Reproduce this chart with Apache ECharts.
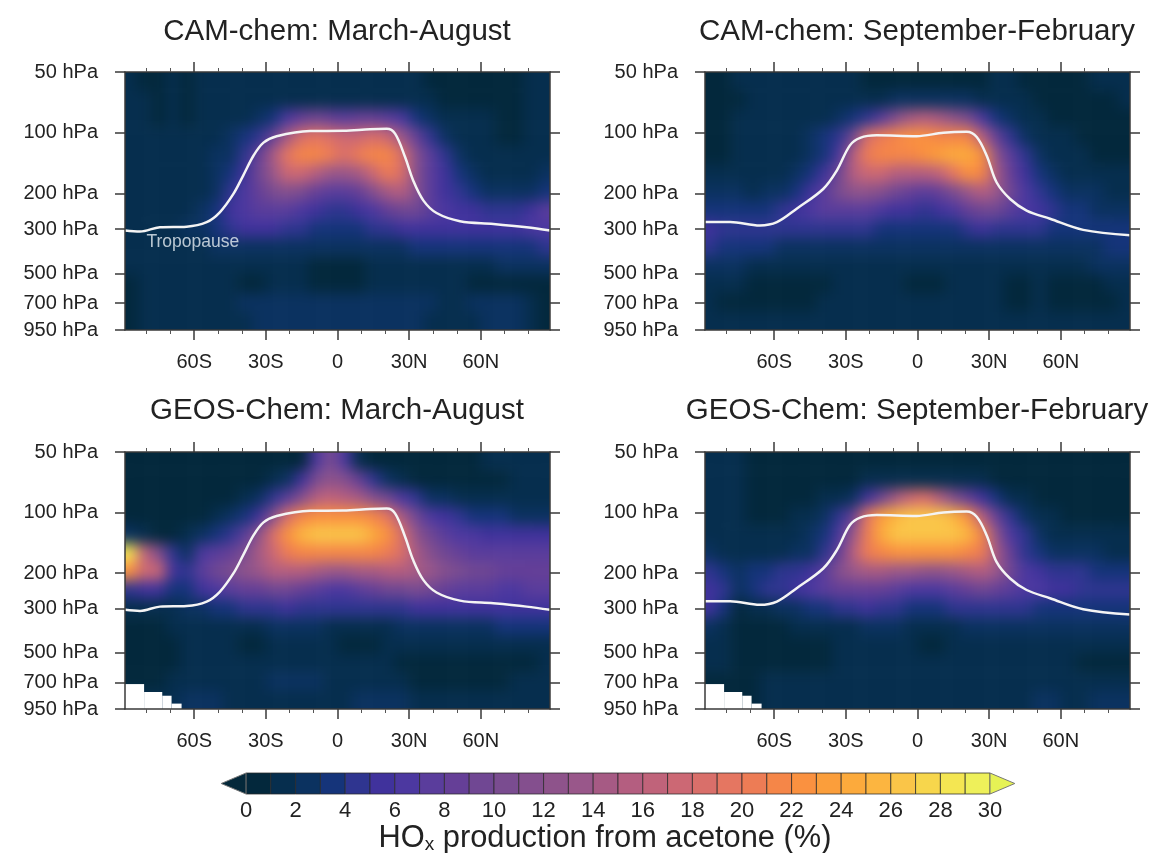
<!DOCTYPE html>
<html><head><meta charset="utf-8">
<style>html,body{margin:0;padding:0;background:#fff}#c{width:1149px;height:853px}</style>
<script src="https://cdn.jsdelivr.net/npm/echarts@6/dist/echarts.min.js"></script>
</head><body><div id="c"></div>
<script>
const panelTitles=['CAM-chem: March-August','CAM-chem: September-February','GEOS-Chem: March-August','GEOS-Chem: September-February'];
const pressureTicks=[50,100,200,300,500,700,950];
const latMajorTicks=[-60,-30,0,30,60];
const latMinorTicks=[-80,-70,-50,-40,-20,-10,10,20,40,50,70,80];
const colorbarTicks=[0,2,4,6,8,10,12,14,16,18,20,22,24,26,28,30];
const latEdges=[-90,-84,-78,-72,-66,-60,-54,-48,-42,-36,-30,-24,-18,-12,-6,0,6,12,18,24,30,36,42,48,54,60,66,72,78,84,90];
const pressureEdges=[50,61.7,76.1,93.9,115.9,143,176.5,217.8,268.8,331.7,409.3,505,623,769,950];
const bandColors=['#03283c','#062e4e','#0b3260','#15347a','#2f3590','#40329c','#4c38a0','#5a3d9c','#653f97','#704793','#7a4c90','#844f8e','#8e538b','#99578a','#a65a84','#b45e80','#c0637a','#cc6874','#d96f6a','#e57661','#ed7c55','#f58648','#fa9140','#fb9e3b','#fcaa3c','#fcb540','#fac548','#f7d64c','#f4e652','#eef05a'];
const belowColor='#04283a', aboveColor='#e6f255';
const camMarAug=[
[1,0,0,1,0,1,1,1,1,1,1,1,1,1,1,1,1,1,1,1,1,0,0,0,0,0,0,0,1,1],
[1,1,0,1,0,1,1,1,1,1,1,1,1,1,1,1,1,1,1,1,1,1,0,0,0,0,0,0,1,1],
[1,1,0,1,0,1,1,1,1,2,3,6,8,9,8,7,8,8,7,6,3,2,1,1,1,1,0,0,1,1],
[1,1,1,1,1,1,1,2,3,4,8,14,18,19,18,17,17,18,17,13,8,4,2,1,1,1,0,0,1,1],
[1,1,1,1,1,1,2,2,4,8,14,19,21,21,20,18,20,21,21,18,11,7,4,2,1,1,1,1,1,1],
[1,1,1,1,1,1,2,3,5,9,13,17,17,15,13,13,14,17,20,18,11,7,5,3,2,1,1,1,1,2],
[1,1,1,1,1,1,2,4,6,8,10,11,10,8,7,7,8,11,14,15,11,7,5,4,3,2,2,2,2,3],
[1,1,1,1,1,2,3,5,6,7,7,7,6,5,4,4,5,6,8,9,9,7,6,5,5,4,4,4,5,7],
[1,1,1,1,2,2,3,4,5,5,5,4,4,3,3,3,3,4,4,5,5,5,5,5,5,5,5,5,6,6],
[1,1,1,1,1,1,2,2,2,2,2,2,2,2,2,2,2,2,2,2,3,3,3,3,3,3,3,3,3,4],
[1,1,1,1,1,1,1,1,1,1,1,1,1,0,0,0,0,1,1,1,1,1,1,1,1,1,2,2,2,2],
[0,1,1,1,1,1,1,1,0,0,1,1,1,0,0,0,0,1,1,1,1,1,1,1,0,0,0,0,0,0],
[0,1,1,1,1,1,1,1,2,2,2,2,2,2,2,2,2,2,2,2,2,2,1,1,2,2,2,2,1,0],
[0,1,1,1,1,1,1,1,1,2,2,2,2,2,2,2,2,2,2,2,2,1,1,1,1,2,2,2,1,0]];
const camSepFeb=[
[0,0,1,1,1,1,1,1,1,1,1,0,0,0,0,0,0,0,0,0,1,1,0,0,0,0,0,1,1,1],
[0,0,0,1,1,1,1,1,1,1,1,1,1,2,2,2,2,2,2,1,1,1,1,0,0,0,0,0,0,1],
[0,0,1,1,1,1,1,1,1,2,3,4,7,11,14,15,14,12,10,6,3,2,1,1,0,0,0,0,0,0],
[0,0,1,1,1,1,1,2,3,4,9,18,20,21,22,22,21,21,21,15,8,4,2,1,1,1,0,0,0,0],
[0,0,1,1,1,1,1,2,3,6,15,20,21,21,21,22,23,24,24,22,12,7,4,2,1,1,1,0,0,0],
[1,1,1,1,1,1,2,3,5,9,15,17,17,15,15,15,16,19,22,21,14,8,5,3,2,1,1,1,1,1],
[2,2,2,1,2,2,3,5,7,10,12,12,11,9,8,7,8,10,13,15,13,9,6,4,3,2,2,2,1,1],
[3,3,3,3,3,4,5,6,7,7,7,7,6,5,5,4,5,6,8,9,9,7,6,5,4,3,3,2,2,2],
[5,4,4,4,4,4,4,4,4,4,4,4,3,3,3,3,3,3,4,5,4,4,4,4,3,3,3,3,3,3],
[4,3,3,3,3,2,2,2,2,2,2,2,2,2,2,2,2,2,2,2,2,2,2,2,2,2,2,2,3,3],
[2,2,2,1,1,1,1,1,1,1,1,1,1,1,1,1,1,1,1,1,1,1,1,1,1,1,1,2,2,2],
[1,1,1,0,0,0,0,0,0,1,1,1,1,1,0,0,0,1,1,1,1,0,0,1,0,0,0,0,1,1],
[1,0,0,0,0,0,0,0,1,1,1,1,1,1,1,1,1,1,1,1,1,0,0,1,0,0,0,0,0,1],
[1,1,1,1,1,1,1,1,1,1,1,1,1,1,1,1,1,1,1,1,1,1,1,1,1,1,1,1,1,1]];
const geosMarAug=[
[0,0,0,0,0,0,0,0,0,0,0,0,0,6,10,6,1,0,0,0,0,0,0,0,0,1,1,1,1,1],
[0,0,0,0,0,0,0,0,0,0,1,2,5,10,12,11,8,4,2,1,0,0,0,0,0,0,0,1,1,1],
[0,0,0,0,0,0,0,0,1,2,4,7,11,15,16,15,14,11,9,6,4,2,2,1,1,1,1,1,1,1],
[0,0,0,0,0,0,1,2,3,5,11,18,21,22,22,22,22,21,19,14,9,6,5,4,3,3,3,2,2,2],
[2,1,0,0,1,2,3,4,7,12,18,22,25,26,26,26,26,24,22,18,12,9,7,6,6,5,5,5,5,5],
[28,16,11,4,2,6,7,8,10,14,17,20,21,21,21,21,21,21,20,18,14,11,9,8,7,7,7,7,7,7],
[22,17,17,5,4,7,9,10,12,13,15,15,15,14,13,13,14,14,15,15,14,13,11,10,9,9,8,8,8,8],
[4,5,5,3,3,5,6,7,8,8,9,9,8,7,6,6,7,8,9,9,10,9,8,7,7,7,6,6,7,7],
[1,1,1,1,2,2,3,3,4,4,4,5,4,4,4,4,4,4,4,4,5,5,5,5,5,5,5,5,5,5],
[0,0,0,1,1,1,1,1,1,1,2,2,2,2,1,1,1,1,1,2,2,2,2,2,2,2,3,3,3,3],
[0,0,0,0,1,1,1,1,0,0,1,1,1,1,1,0,0,0,1,1,1,1,1,1,1,1,1,1,1,1],
[0,0,0,0,1,1,1,1,1,1,1,1,1,1,1,1,1,1,1,0,0,0,0,0,0,0,0,0,0,1],
[0,0,0,1,1,1,1,1,1,1,2,2,2,2,1,1,1,1,1,1,0,0,0,0,0,0,0,1,1,1],
[1,1,1,1,2,2,2,1,1,1,1,1,1,1,1,1,2,2,2,2,1,1,1,1,1,1,1,1,1,1]];
const geosSepFeb=[
[1,1,1,0,0,0,0,0,0,0,0,0,0,0,0,0,0,0,0,0,0,0,0,0,0,0,0,0,0,0],
[1,1,1,0,0,0,0,0,0,0,0,1,1,1,1,1,1,1,1,1,0,0,0,0,0,0,0,0,0,0],
[1,1,1,0,0,0,0,0,1,1,2,5,9,14,17,18,15,11,8,5,3,1,1,0,0,0,0,0,0,0],
[1,1,1,0,0,0,1,1,2,4,8,19,23,25,26,26,26,25,22,15,8,4,2,1,1,0,0,0,0,0],
[1,1,1,1,1,1,1,2,3,6,13,20,24,26,26,26,26,26,25,21,12,6,4,2,1,1,1,1,1,1],
[2,1,1,1,1,1,2,2,4,8,15,20,21,22,22,22,22,22,21,20,14,8,4,3,2,2,2,2,1,1],
[4,3,2,3,3,4,4,5,7,11,13,14,14,13,13,12,12,13,14,15,13,9,6,5,4,4,4,3,3,3],
[5,4,2,3,4,4,5,6,7,8,8,8,8,7,6,6,6,7,8,9,8,7,6,6,5,5,4,4,4,4],
[5,3,0,1,1,2,2,3,3,4,4,5,4,4,3,3,3,4,4,4,4,4,4,3,3,3,3,3,3,3],
[2,1,0,0,0,0,1,1,1,1,1,2,2,2,1,1,1,1,2,2,2,2,2,2,2,2,2,2,2,2],
[1,1,0,0,0,0,0,0,0,1,1,1,1,1,1,0,0,1,1,1,1,1,1,1,1,1,1,1,1,1],
[1,1,0,0,0,0,0,0,0,1,1,1,1,1,1,1,1,1,1,1,1,1,1,1,1,1,0,0,0,0],
[0,0,0,0,1,1,1,1,1,1,1,1,1,1,1,1,1,1,1,1,1,1,1,1,1,1,1,1,1,1],
[0,0,0,0,1,1,1,1,1,1,1,1,1,1,1,1,1,1,1,1,1,1,1,2,2,1,1,2,2,2]];
const tropopauseMarAug=[[-89,305],[-82.7,309],[-74.4,294],[-63.2,292],[-54.8,277.5],[-49.3,248],[-43.6,201],[-39.5,163],[-35.2,130],[-31,112],[-25.5,104],[-11.5,98],[2.5,97.8],[13.6,96],[20.6,95.6],[24.1,101],[28.3,132],[31.7,172.5],[36,217],[41.5,250],[51.3,274.5],[65.3,283],[79.2,294],[89,305]];
const tropopauseSepFeb=[[-89,276.6],[-78.5,276.6],[-66,288],[-58.9,277.5],[-50.6,238],[-39.5,190],[-33.8,154],[-28.3,115.5],[-24,106],[-17.1,103],[-0.4,104],[10.9,100],[20.6,99],[24.8,105],[29,130],[33.1,176],[38.8,213],[45.7,243],[55.5,267],[69.4,303],[89,322]];
const missingBlocks=[[-89,-81,714,950],[-81,-73.4,782,950],[-73.4,-69.5,816,950],[-69.5,-65.3,893,950]];
const tropopauseLabel=[[-80,349]];
const panelData=[camMarAug,camSepFeb,geosMarAug,geosSepFeb];
const panelTropopause=[tropopauseMarAug,tropopauseSepFeb,tropopauseMarAug,tropopauseSepFeb];

const FONT='Liberation Sans',INK='#222',AX='#3a3a3a',TOP=2,BLUR_PX=7,BLEED=28;
const panelRects=[[125,72,425,258],[705,72,425,258],[125,452,425,257],[705,452,425,257]];
const titleCenters=[[332,12],[912,12],[332,391],[912,391]];
const grid=[],xAxis=[],yAxis=[],series=[];
function latLabel(v){return v===0?'0':Math.abs(v)+(v<0?'S':'N');}
panelRects.forEach((r,g)=>{
  grid.push({left:r[0],top:r[1],width:r[2],height:r[3],containLabel:false});
  const base={type:'value',gridIndex:g,min:-89,max:89,z:6,zlevel:TOP,splitLine:{show:false},axisLine:{onZero:false,show:false},silent:true};
  xAxis.push({...base,position:'bottom',axisLine:{onZero:false,show:true,lineStyle:{color:AX,width:1.5}},axisTick:{show:true,length:10,customValues:latMajorTicks,lineStyle:{color:AX,width:1.5}},axisLabel:{show:true,customValues:latMajorTicks,formatter:latLabel,margin:22,fontFamily:FONT,fontSize:20,color:INK}});
  xAxis.push({...base,position:'top',axisLine:{onZero:false,show:true,lineStyle:{color:AX,width:1.5}},axisTick:{show:true,length:10,customValues:latMajorTicks,lineStyle:{color:AX,width:1.5}},axisLabel:{show:false}});
  xAxis.push({...base,position:'bottom',axisTick:{show:true,length:4,customValues:latMinorTicks,lineStyle:{color:'#555',width:1}},axisLabel:{show:false}});
  xAxis.push({...base,position:'top',axisTick:{show:true,length:4,customValues:latMinorTicks,lineStyle:{color:'#555',width:1}},axisLabel:{show:false}});
  const yb={type:'log',logBase:10,gridIndex:g,min:50,max:950,inverse:true,z:6,zlevel:TOP,splitLine:{show:false},minorTick:{show:false},silent:true};
  yAxis.push({...yb,position:'left',axisLine:{onZero:false,show:true,lineStyle:{color:AX,width:1.5}},axisTick:{show:true,length:10,customValues:pressureTicks,lineStyle:{color:AX,width:1.5}},axisLabel:{show:true,customValues:pressureTicks,formatter:v=>Math.round(v)+' hPa',margin:27,fontFamily:FONT,fontSize:20,color:INK}});
  yAxis.push({...yb,position:'right',axisLine:{onZero:false,show:true,lineStyle:{color:AX,width:1.5}},axisTick:{show:true,length:10,customValues:pressureTicks,lineStyle:{color:AX,width:1.5}},axisLabel:{show:false}});
  const cells=[];
  panelData[g].forEach((row,j)=>row.forEach((v,i)=>cells.push([latEdges[i],pressureEdges[j],latEdges[i+1],pressureEdges[j+1],v])));
  series.push({type:'custom',xAxisIndex:g*4,yAxisIndex:g*2,data:cells,clip:false,silent:true,zlevel:1,z:2,encode:{x:[0,2],y:[1,3]},
    renderItem:(p,api)=>{
      const v0=api.value(0),v1=api.value(1),v2=api.value(2),v3=api.value(3);
      const a=api.coord([v0,v1]),b=api.coord([v2,v3]);
      const pl=v0===latEdges[0]?BLEED:0,pr=v2===latEdges[latEdges.length-1]?BLEED:0;
      const pt=v1===pressureEdges[0]?BLEED:0,pb=v3===pressureEdges[pressureEdges.length-1]?BLEED:0;
      return {type:'rect',shape:{x:a[0]-pl,y:a[1]-pt,width:b[0]-a[0]+pl+pr+.5,height:b[1]-a[1]+pt+pb+.5},style:{fill:bandColors[api.value(4)]}};
    }});
  if(g>=2) series.push({type:'custom',xAxisIndex:g*4,yAxisIndex:g*2,data:missingBlocks,clip:true,silent:true,zlevel:TOP,z:3,encode:{x:[0,1],y:[2,3]},
    renderItem:(p,api)=>{
      const a=api.coord([api.value(0),api.value(2)]),b=api.coord([api.value(1),api.value(3)]);
      return {type:'rect',shape:{x:a[0],y:a[1],width:b[0]-a[0],height:b[1]-a[1]},style:{fill:'#fff'}};
    }});
  series.push({type:'line',xAxisIndex:g*4,yAxisIndex:g*2,data:panelTropopause[g],smooth:.35,showSymbol:false,silent:true,zlevel:TOP,z:4,lineStyle:{color:'#f4f4f4',width:2.5}});
  if(g===0) series.push({type:'scatter',xAxisIndex:0,yAxisIndex:0,data:tropopauseLabel,symbolSize:0,silent:true,zlevel:TOP,z:5,label:{show:true,position:'right',distance:0,formatter:'Tropopause',fontFamily:FONT,fontSize:17.5,color:'#e6eef2'}});
});
// colour bar
const cb=panelRects.length;
grid.push({left:246,top:773,width:744,height:21});
xAxis.push({type:'value',gridIndex:cb,min:0,max:30,position:'bottom',z:6,zlevel:TOP,splitLine:{show:false},axisLine:{show:false,onZero:false},axisTick:{show:false},axisLabel:{customValues:colorbarTicks,margin:6,fontFamily:FONT,fontSize:22,color:INK,hideOverlap:false},silent:true});
yAxis.push({type:'value',gridIndex:cb,min:0,max:1,show:false,silent:true});
const barIdx=xAxis.length-1,barY=yAxis.length-1;
const barCells=bandColors.map((c,i)=>[i,0,i+1,1,c]);
series.push({type:'custom',xAxisIndex:barIdx,yAxisIndex:barY,data:barCells,clip:false,silent:true,zlevel:TOP,z:3,encode:{x:[0,2],y:[1,3]},
  renderItem:(p,api)=>{
    const a=api.coord([api.value(0),api.value(3)]),b=api.coord([api.value(2),api.value(1)]);
    return {type:'rect',shape:{x:a[0],y:a[1],width:b[0]-a[0],height:b[1]-a[1]},style:{fill:barCells[p.dataIndex][4],stroke:'#2a2a2a',lineWidth:1,strokeOpacity:.75}};
  }});
const barEnds=[[-1,0,0,belowColor],[31,30,30,aboveColor]];
series.push({type:'custom',xAxisIndex:barIdx,yAxisIndex:barY,data:barEnds.map(d=>d.slice(0,3)),clip:false,silent:true,zlevel:TOP,z:3,encode:{x:[0,1]},
  renderItem:(p,api)=>{
    const tip=api.coord([api.value(0),.5]),up=api.coord([api.value(1),1]),dn=api.coord([api.value(2),0]);
    return {type:'polygon',shape:{points:[tip,up,dn]},style:{fill:barEnds[p.dataIndex][3],stroke:'#777',lineWidth:1}};
  }});
const title=panelTitles.map((t,i)=>({text:t,left:titleCenters[i][0],top:titleCenters[i][1],textAlign:'center',zlevel:TOP,textStyle:{fontFamily:FONT,fontSize:29.5,fontWeight:'normal',color:INK}}));
title.push({text:'{a|HO}{s|x}{a| production from acetone (%)}',left:600,top:818,textAlign:'center',zlevel:TOP,textStyle:{fontWeight:'normal',rich:{a:{fontFamily:FONT,fontSize:30.8,fontWeight:'normal',color:INK,verticalAlign:'middle'},s:{fontFamily:FONT,fontSize:19,fontWeight:'normal',color:INK,verticalAlign:'bottom',padding:[12,0,0,0]}}}});
const chart=echarts.init(document.getElementById('c'),null,{renderer:'canvas'});
chart.setOption({animation:false,tooltip:{show:false},title,grid,xAxis,yAxis,series});
function softenField(){
  const layer=document.querySelector('#c canvas[data-zr-dom-id="zr_1"]');
  if(!layer) return;
  layer.style.filter='blur('+BLUR_PX+'px)';
  layer.style.clipPath="path('"+panelRects.map(r=>'M'+r[0]+' '+r[1]+'h'+r[2]+'v'+r[3]+'h-'+r[2]+'z').join(' ')+"')";
}
softenField();
chart.on('finished',softenField);
</script></body></html>
